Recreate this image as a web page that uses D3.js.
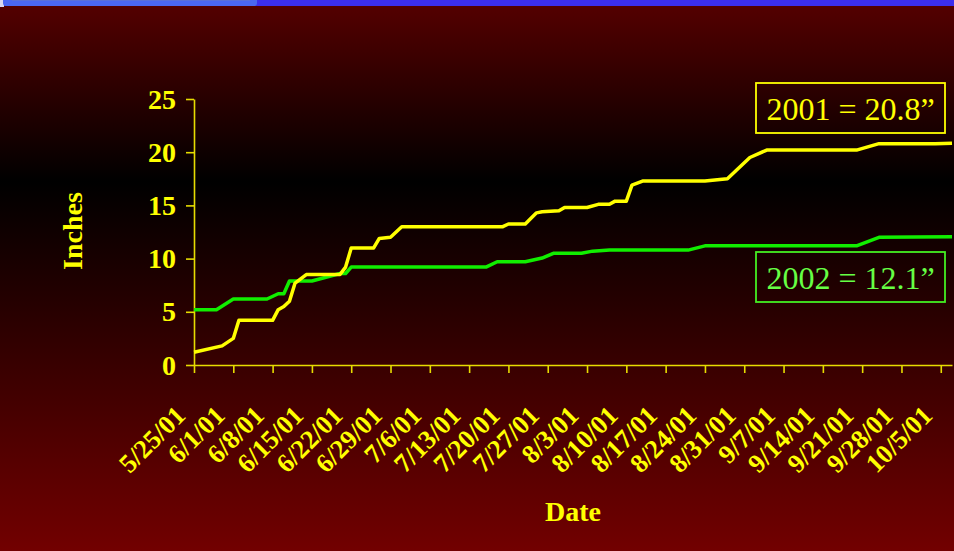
<!DOCTYPE html>
<html>
<head>
<meta charset="utf-8">
<script src="https://cdn.jsdelivr.net/npm/d3@7"></script>
<style>
  html, body { margin: 0; padding: 0; background: #000; }
  svg { display: block; }
</style>
</head>
<body>
<svg id="chart" width="954" height="551"></svg>
<script>
// ---- data ----
const tickLabels = ["5/25/01","6/1/01","6/8/01","6/15/01","6/22/01","6/29/01","7/6/01","7/13/01",
  "7/20/01","7/27/01","8/3/01","8/10/01","8/17/01","8/24/01","8/31/01","9/7/01","9/14/01",
  "9/21/01","9/28/01","10/5/01"];
const yTicks = [0, 5, 10, 15, 20, 25];

const dates2001 = ["5/25","5/30","6/1","6/2","6/8","6/9","6/10","6/11","6/12","6/14","6/20","6/21",
  "6/22","6/26","6/27","6/29","7/1","7/19","7/20","7/23","7/25","7/26","7/29","7/30","8/3","8/5",
  "8/7","8/8","8/10","8/11","8/13","8/24","8/28","9/1","9/4","9/20","9/24","10/4","10/7"];
const values2001 = [1.2,1.8,2.5,4.2,4.2,5.2,5.5,6.0,7.7,8.5,8.5,9.2,
  11.0,11.0,11.9,12.0,13.0,13.0,13.25,13.25,14.3,14.4,14.5,14.8,14.8,15.1,
  15.1,15.4,15.4,16.9,17.3,17.3,17.5,19.5,20.2,20.2,20.8,20.8,20.85];

const dates2002 = ["5/25","5/29","6/1","6/7","6/9","6/10","6/11","6/15","6/20","6/21","6/22","7/16",
  "7/18","7/23","7/26","7/28","8/2","8/4","8/7","8/21","8/24","9/20","9/24","10/7"];
const values2002 = [5.2,5.2,6.2,6.2,6.7,6.7,7.9,7.9,8.6,8.6,9.2,9.2,
  9.7,9.7,10.05,10.5,10.5,10.7,10.8,10.8,11.2,11.2,12.0,12.05];

const legend2001 = "2001 = 20.8\u201D";
const legend2002 = "2002 = 12.1\u201D";
const xTitle = "Date";
const yTitle = "Inches";

// ---- setup ----
const parse = s => d3.utcParse("%m/%d/%Y")(s.split("/").length === 3 ? s.replace(/\/(\d\d)$/, "/20$1") : s + "/2001");
const svg = d3.select("#chart");
const W = 954, H = 551;
const YELLOW = "#ffff00";
const AXIS = "#e6dc00";
const GREEN = "#11ee00";

const defs = svg.append("defs");
const bg = defs.append("linearGradient").attr("id", "bg").attr("x1", 0).attr("y1", 0).attr("x2", 0).attr("y2", 1);
bg.append("stop").attr("offset", "0%").attr("stop-color", "#560000");
bg.append("stop").attr("offset", "33%").attr("stop-color", "#000000");
bg.append("stop").attr("offset", "100%").attr("stop-color", "#720000");

svg.append("rect").attr("width", W).attr("height", H).attr("fill", "url(#bg)");
// top window strip
svg.append("rect").attr("x", 0).attr("y", 0).attr("width", W).attr("height", 6).attr("fill", "#3b2fee");
svg.append("rect").attr("x", 0).attr("y", 0).attr("width", 4).attr("height", 7).attr("fill", "#d8d8f0");
svg.append("rect").attr("x", 3).attr("y", -4).attr("width", 254).attr("height", 10).attr("rx", 3)
  .attr("fill", "#4a68f2");
svg.append("rect").attr("x", 12).attr("y", -2).attr("width", 238).attr("height", 3).attr("fill", "#5a70d8");

const x = d3.scaleUtc().domain([parse("5/25"), parse("10/7")]).range([194, 952]);
const y = d3.scaleLinear().domain([0, 25]).range([365, 99]);

const font = "'Liberation Serif','Times New Roman',serif";

// axes
const gx = svg.append("g").attr("transform", "translate(0,365)")
  .call(d3.axisBottom(x).tickValues(tickLabels.map(parse)).tickSize(8).tickSizeOuter(0).tickFormat(""));
gx.selectAll("path, line").attr("stroke", AXIS).attr("stroke-width", 1.6);

const gy = svg.append("g").attr("transform", "translate(194,0)")
  .call(d3.axisLeft(y).tickValues(yTicks).tickSize(8).tickSizeOuter(0).tickFormat(""));
gy.selectAll("path, line").attr("stroke", AXIS).attr("stroke-width", 1.6);

// y tick labels
svg.append("g").selectAll("text").data(yTicks).join("text")
  .attr("x", 176).attr("y", d => y(d) + 9.5)
  .attr("text-anchor", "end").attr("font-family", font).attr("font-weight", "bold")
  .attr("font-size", 28).attr("fill", YELLOW).text(d => d);

// x tick labels
svg.append("g").selectAll("text").data(tickLabels).join("text")
  .attr("transform", d => `translate(${x(parse(d)) - 7},${417}) rotate(-45)`)
  .attr("text-anchor", "end").attr("font-family", font).attr("font-weight", "bold")
  .attr("font-size", 26.5).attr("fill", YELLOW).text(d => d);

// titles
svg.append("text").attr("x", 573).attr("y", 521).attr("text-anchor", "middle")
  .attr("font-family", font).attr("font-weight", "bold").attr("font-size", 28)
  .attr("fill", YELLOW).text(xTitle);
svg.append("text").attr("transform", "translate(82,231) rotate(-90)").attr("text-anchor", "middle")
  .attr("font-family", font).attr("font-weight", "bold").attr("font-size", 28)
  .attr("fill", YELLOW).text(yTitle);

// lines
const line = d3.line().x(d => x(parse(d[0]))).y(d => y(d[1]));
svg.append("path").datum(d3.zip(dates2002, values2002)).attr("d", line)
  .attr("fill", "none").attr("stroke", GREEN).attr("stroke-width", 3.5).attr("stroke-linejoin", "round");
svg.append("path").datum(d3.zip(dates2001, values2001)).attr("d", line)
  .attr("fill", "none").attr("stroke", YELLOW).attr("stroke-width", 3.5).attr("stroke-linejoin", "round");

// legend boxes
function box(x0, y0, txt, col, tcol, baseline) {
  svg.append("rect").attr("x", x0).attr("y", y0).attr("width", 189).attr("height", 50)
    .attr("fill", "none").attr("stroke", col).attr("stroke-width", 1.8);
  svg.append("text").attr("x", x0 + 94.5).attr("y", baseline).attr("text-anchor", "middle")
    .attr("font-family", font).attr("font-size", 32).attr("fill", tcol).text(txt);
}
box(756, 83, legend2001, YELLOW, YELLOW, 120);
box(756, 252, legend2002, "#44ee22", "#66ff44", 289);
</script>
</body>
</html>
